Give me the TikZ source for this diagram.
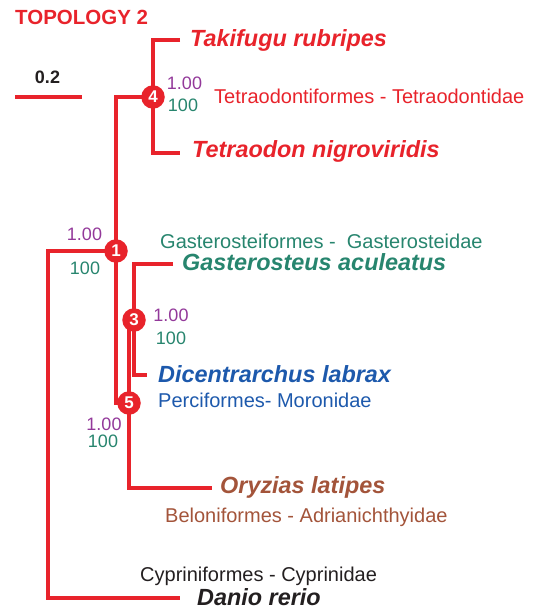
\documentclass[tikz,border=0pt]{standalone}
\usepackage{fontspec}
\setmainfont{Liberation Sans}
\usepackage{tikz}
\usetikzlibrary{positioning}
\definecolor{treered}{HTML}{E8232B}
\definecolor{pppurple}{HTML}{93399A}
\definecolor{bsgreen}{HTML}{27856E}
\definecolor{taxblue}{HTML}{1D59AC}
\definecolor{taxbrown}{HTML}{A3543A}
\definecolor{taxblack}{HTML}{231F20}

\begin{document}
\begin{tikzpicture}[
    x=1pt, y=-1pt,
    every node/.style={inner sep=0pt},
    branch/.style={draw=treered, line width=4.5pt},
    clade/.style={circle, fill=treered, minimum size=23.5pt, text=white, font=\bfseries\fontsize{17}{17}\selectfont},
    taxon/.style={anchor=base west, font=\bfseries\itshape\fontsize{23.4}{24}\selectfont},
    family/.style={anchor=base west, font=\fontsize{20}{21}\selectfont},
    pp/.style={anchor=base, text=pppurple, font=\fontsize{18}{18}\selectfont},
    bs/.style={anchor=base, text=bsgreen, font=\fontsize{18}{18}\selectfont}
]
    \useasboundingbox (0,0) rectangle (533,610);

    % Title and scale
    \node[anchor=base west, text=treered, font=\bfseries\fontsize{20.5}{21}\selectfont] (title) at (15,25) {TOPOLOGY 2};
    \coordinate (scaleL) at (15,97);
    \coordinate (scaleR) at (82,97);
    \draw[branch] (scaleL) -- (scaleR);
    \node[anchor=base, text=taxblack, font=\bfseries\fontsize{18}{18}\selectfont] (scalelab) at (47.5,83) {0.2};

    % Branch points and tips
    \coordinate (n1) at (116,251);
    \coordinate (n3) at (134,320);
    \coordinate (n4) at (153,97);
    \coordinate (n5) at (129,403);
    \coordinate (root) at (48,251);
    \coordinate (tipTaki) at (180,40);
    \coordinate (tipTetra) at (180,153);
    \coordinate (tipGast) at (173,264);
    \coordinate (tipDicen) at (147,375);
    \coordinate (tipOryz) at (212,488);
    \coordinate (tipDanio) at (180,598);

    % Branches
    \draw[branch] (n1) -- (root) |- (tipDanio);
    \draw[branch] (n4) -| (n1) |- (n5);
    \draw[branch] (tipTaki) -| (n4) |- (tipTetra);
    \draw[branch] (tipGast) -| (n3) |- (tipDicen);
    \draw[branch] (n3 -| n5) -- (n5) |- (tipOryz);

    % Numbered clades
    \node[clade] (c1) at (n1) {1};
    \node[clade] (c3) at (n3) {3};
    \node[clade] (c4) at (n4) {4};
    \node[clade] (c5) at (n5) {5};

    % Support values
    \node[pp] (pp4) at (184.5,89) {1.00};
    \node[bs] (bs4) at (183,111) {100};
    \node[pp] (pp1) at (84.5,240) {1.00};
    \node[bs] (bs1) at (85,274) {100};
    \node[pp] (pp3) at (171,321) {1.00};
    \node[bs] (bs3) at (171,344) {100};
    \node[pp] (pp5) at (104,430) {1.00};
    \node[bs] (bs5) at (103,447) {100};

    % Species
    \node[taxon, text=treered] (taki) at (190,47) {Takifugu rubripes};
    \node[taxon, text=treered] (tetra) at (192,157) {Tetraodon nigroviridis};
    \node[taxon, text=bsgreen] (gast) at (182,270) {Gasterosteus aculeatus};
    \node[taxon, text=taxblue] (dicen) at (158,382) {Dicentrarchus labrax};
    \node[taxon, text=taxbrown] (oryz) at (220,493) {Oryzias latipes};
    \node[taxon, text=taxblack] (danio) at (197,605) {Danio rerio};

    % Orders and families
    \node[family, text=treered] (famTetra) at (214,103) {Tetraodontiformes - Tetraodontidae};
    \node[family, text=bsgreen] (famGast) at (160,248) {Gasterosteiformes - ~Gasterosteidae};
    \node[family, text=taxblue] (famDicen) at (158,407) {Perciformes- Moronidae};
    \node[family, text=taxbrown] (famOryz) at (165,522) {Beloniformes - Adrianichthyidae};
    \node[family, text=taxblack] (famDanio) at (140,581) {Cypriniformes - Cyprinidae};
\end{tikzpicture}
\end{document}
